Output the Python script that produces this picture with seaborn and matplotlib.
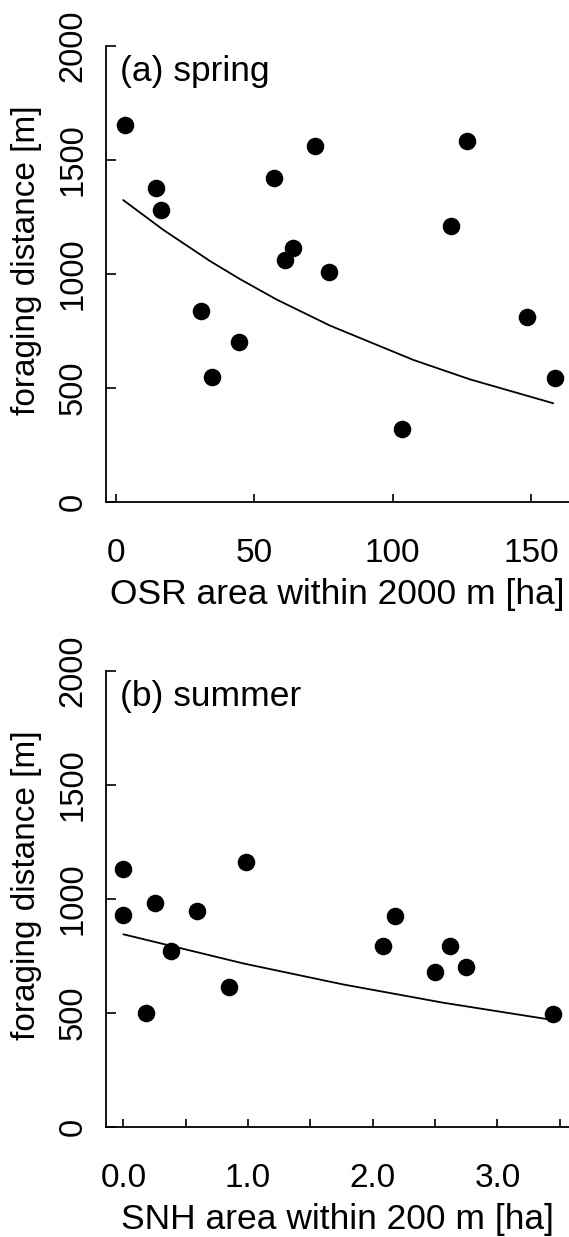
import numpy as np
import pandas as pd
import seaborn as sns
import matplotlib
matplotlib.use("Agg")
import matplotlib.pyplot as plt

# (a) spring: OSR area vs foraging distance
osr_area = [3.3, 14.5, 16.3, 30.6, 34.8, 44.5, 57.0, 61.0, 63.8, 72.0,
            77.0, 103.4, 121.0, 126.9, 148.6, 158.5]
spring_dist = [1652, 1376, 1282, 836, 546, 700, 1420, 1060, 1113, 1561,
               1009, 318, 1210, 1585, 812, 545]
# fitted curve
osr_fit_x = [2.6, 17.1, 34.0, 44.8, 58.1, 77.3, 107.5, 127.9, 158.0]
osr_fit_y = [1324, 1193, 1056, 977, 887, 773, 622, 537, 432]

# (b) summer: SNH area vs foraging distance
snh_area = [0.0, 0.0, 0.182, 0.256, 0.383, 0.589, 0.848, 0.980, 2.082,
            2.177, 2.502, 2.621, 2.751, 3.446]
summer_dist = [1130, 930, 499, 985, 773, 948, 614, 1163, 796, 926,
               681, 796, 701, 496]
snh_fit_x = [0.0, 0.964, 1.764, 2.566, 3.448]
snh_fit_y = [846, 718, 626, 546, 470]

y_ticks = [0, 500, 1000, 1500, 2000]
osr_ticks = [0, 50, 100, 150]
snh_ticks = [0.0, 0.5, 1.0, 1.5, 2.0, 2.5, 3.0, 3.5]
snh_ticklabels = ["0.0", "", "1.0", "", "2.0", "", "3.0", ""]

sns.set_theme(style="ticks")
plt.rcParams["font.family"] = ["Liberation Sans", "DejaVu Sans"]

W, H = 569, 1237
fig = plt.figure(figsize=(W / 100, H / 100), dpi=100)

panels = [
    dict(df=pd.DataFrame({"x": osr_area, "y": spring_dist}),
         fit=pd.DataFrame({"x": osr_fit_x, "y": osr_fit_y}),
         top=46.0, bottom=501.7, xlim=(-3.61, 163.7),
         xticks=osr_ticks, xticklabels=[str(t) for t in osr_ticks],
         xlabel="OSR area within 2000 m [ha]", tag="(a) spring"),
    dict(df=pd.DataFrame({"x": snh_area, "y": summer_dist}),
         fit=pd.DataFrame({"x": snh_fit_x, "y": snh_fit_y}),
         top=671.0, bottom=1127.3, xlim=(-0.139, 3.574),
         xticks=snh_ticks, xticklabels=snh_ticklabels,
         xlabel="SNH area within 200 m [ha]", tag="(b) summer"),
]

left_px, right_px = 106, 569
for p in panels:
    ax = fig.add_axes([left_px / W, 1 - p["bottom"] / H,
                       (right_px - left_px) / W, (p["bottom"] - p["top"]) / H])
    sns.scatterplot(data=p["df"], x="x", y="y", ax=ax, color="black",
                    s=160, linewidth=0, zorder=3)
    sns.lineplot(data=p["fit"], x="x", y="y", ax=ax, color="black",
                 linewidth=1.3, estimator=None)

    ax.set_xlim(*p["xlim"])
    ax.set_ylim(0, 2000)
    ax.set_xticks(p["xticks"])
    ax.set_xticklabels(p["xticklabels"])
    ax.set_yticks(y_ticks)
    ax.set_yticklabels([str(t) for t in y_ticks])

    sns.despine(ax=ax)
    for s in ["left", "bottom"]:
        ax.spines[s].set_linewidth(1.3)
        ax.spines[s].set_color("black")

    ax.tick_params(axis="x", direction="in", length=6, width=1.2,
                   pad=26, labelsize=24, colors="black")
    ax.tick_params(axis="y", direction="in", length=7, width=1.2,
                   pad=12.5, labelsize=23.5, colors="black")
    for lab in ax.get_yticklabels():
        lab.set_rotation(90)
        lab.set_va("center")

    ax.set_xlabel(p["xlabel"], fontsize=25.5, color="black")
    ax.xaxis.set_label_coords(0.5, -76 / (p["bottom"] - p["top"]))
    ax.set_ylabel("foraging distance [m]", fontsize=24, color="black")
    ax.yaxis.set_label_coords((42 - left_px) / (right_px - left_px), 0.53)

    ax.text(0.031, 1 - 9 / (p["bottom"] - p["top"]), p["tag"],
            transform=ax.transAxes, ha="left", va="top", fontsize=25.5,
            color="black")
    ax.set_facecolor("white")

fig.patch.set_facecolor("white")
fig.savefig("out.png", dpi=100, facecolor="white")
